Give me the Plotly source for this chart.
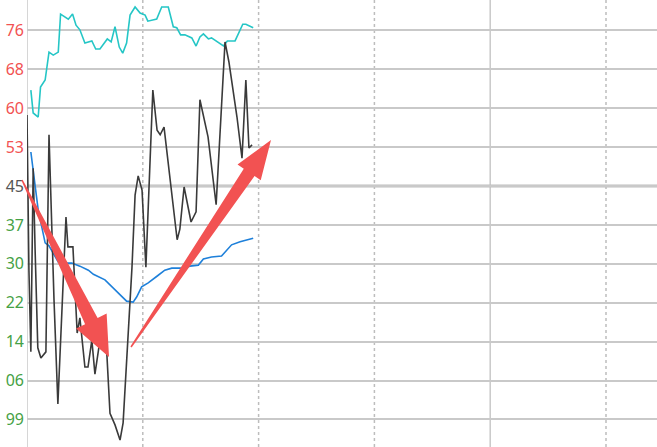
import numpy as np
import plotly.graph_objects as go

# price line (minutes since open, price)
price_t = [0.0, 0.5, 1.0, 1.6, 2.1, 2.8, 3.6, 4.9, 5.7, 6.2, 7.0, 8.0, 9.1, 10.1, 10.6,
           11.9, 13.0, 13.7, 15.0, 15.8, 16.8, 17.6, 18.9, 19.9, 20.7, 21.5, 22.8, 24.1,
           24.9, 26.2, 27.2, 28.0, 28.8, 29.8, 30.8, 32.6, 33.7, 34.5, 35.5, 38.9, 39.6,
           40.7, 41.7, 42.5, 43.8, 44.8, 46.9, 49.0, 51.3, 52.3, 54.4, 55.7, 56.7, 57.5, 58.3]
price_v = [12.590, 12.284, 12.123, 12.485, 12.324, 12.131, 12.111, 12.123, 12.551, 12.422,
           12.225, 12.020, 12.225, 12.389, 12.330, 12.330, 12.160, 12.190, 12.093, 12.093,
           12.146, 12.079, 12.146, 12.166, 12.117, 12.002, 11.979, 11.949, 11.983, 12.146,
           12.290, 12.432, 12.470, 12.442, 12.290, 12.639, 12.560, 12.551, 12.566, 12.344,
           12.365, 12.448, 12.409, 12.379, 12.399, 12.620, 12.547, 12.413, 12.734, 12.695,
           12.586, 12.505, 12.659, 12.525, 12.531]

# average price line
avg_t = [1.0, 1.6, 2.9, 4.7, 5.7, 8.1, 9.8, 11.6, 13.7, 15.9, 17.2, 20.2, 22.8, 24.5, 25.8,
         27.5, 28.4, 29.7, 31.4, 34.0, 35.7, 37.5, 40.1, 42.2, 44.4, 45.7, 47.8, 50.4, 51.3,
         53.0, 55.2, 56.9, 58.6]
avg_v = [12.517, 12.482, 12.403, 12.338, 12.332, 12.300, 12.298, 12.298, 12.292, 12.284,
         12.276, 12.265, 12.245, 12.231, 12.223, 12.221, 12.231, 12.251, 12.259, 12.274,
         12.284, 12.288, 12.288, 12.292, 12.294, 12.306, 12.310, 12.312, 12.320, 12.334,
         12.340, 12.344, 12.347]

# benchmark / index line (scaled to price axis)
idx_t = [1.0, 1.6, 2.9, 3.5, 4.7, 5.7, 6.8, 8.1, 8.7, 10.7, 11.8, 12.7, 13.7, 15.0, 16.8,
         17.8, 18.9, 20.8, 21.8, 22.8, 23.9, 24.8, 25.8, 26.7, 28.0, 29.3, 30.6, 31.3, 33.6,
         34.9, 36.6, 37.9, 38.8, 39.8, 40.9, 42.7, 43.8, 44.8, 45.7, 47.0, 47.8, 50.9, 51.9,
         53.9, 55.9, 56.7, 58.6]
idx_v = [12.639, 12.594, 12.586, 12.645, 12.659, 12.714, 12.708, 12.714, 12.789, 12.779,
         12.789, 12.767, 12.758, 12.732, 12.736, 12.720, 12.720, 12.740, 12.734, 12.764,
         12.724, 12.712, 12.732, 12.787, 12.803, 12.791, 12.787, 12.775, 12.779, 12.803,
         12.803, 12.764, 12.762, 12.748, 12.748, 12.742, 12.726, 12.744, 12.750, 12.740,
         12.742, 12.726, 12.736, 12.736, 12.769, 12.769, 12.762]

PREV_CLOSE = 12.45
STEP = 0.0767
tick_steps = [4, 3, 2, 1, 0, -1, -2, -3, -4, -5, -6]
tick_labels = ["76", "68", "60", "53", "45", "37", "30", "22", "14", "06", "99"]

W, H = 657, 447
L = 27
X_MAX = (W - L) / 3.86
Y_TOP = PREV_CLOSE + 186 / 38.9 * STEP
Y_BOT = PREV_CLOSE - 261 / 38.9 * STEP

RED = "#F25252"
GREEN = "#45A145"
GRID = "#C9C9C9"


def to_paper(px, py):
    return (px - L) / (W - L), 1 - py / H


def arrow_path(tail, tip, w0, w1, head_len, head_half):
    t = np.array(tail, float)
    p = np.array(tip, float)
    u = (p - t) / np.linalg.norm(p - t)
    n = np.array([-u[1], u[0]])
    b = p - u * head_len
    pts = [t + n * w0 / 2, b + n * w1 / 2, b + n * head_half, p,
           b - n * head_half, b - n * w1 / 2, t - n * w0 / 2]
    segs = []
    for i, q in enumerate(pts):
        x, y = to_paper(*q)
        segs.append(("M" if i == 0 else "L") + f"{x:.4f},{y:.4f}")
    return " ".join(segs) + " Z"


fig = go.Figure()
fig.add_trace(go.Scatter(x=idx_t, y=idx_v, mode="lines",
                         line=dict(color="#25C6C6", width=1.6), hoverinfo="skip"))
fig.add_trace(go.Scatter(x=avg_t, y=avg_v, mode="lines",
                         line=dict(color="#1E80DA", width=1.6), hoverinfo="skip"))
fig.add_trace(go.Scatter(x=price_t, y=price_v, mode="lines",
                         line=dict(color="#3A3A3A", width=1.6), hoverinfo="skip"))

tickvals = [PREV_CLOSE + k * STEP for k in tick_steps]
ticktext = []
for k, lab in zip(tick_steps, tick_labels):
    col = RED if k > 0 else (GREEN if k < 0 else "#555555")
    ticktext.append(f'<span style="color:{col}">{lab}</span>')

shapes = []
# vertical time lines
for m in [30, 60, 90, 150]:
    shapes.append(dict(type="line", xref="x", yref="paper", x0=m, x1=m, y0=0, y1=1,
                       line=dict(color="#BDBDBD", width=1.5, dash="dot"), layer="below"))
for m in [0, 120]:
    shapes.append(dict(type="line", xref="x", yref="paper", x0=m, x1=m, y0=0, y1=1,
                       line=dict(color=GRID, width=1.5), layer="below"))
# previous close line
shapes.append(dict(type="line", xref="paper", yref="y", x0=0, x1=1, y0=PREV_CLOSE,
                   y1=PREV_CLOSE, line=dict(color="#BDBDBD", width=3), layer="below"))
# red trend arrows
shapes.append(dict(type="path", xref="paper", yref="paper",
                   path=arrow_path((22, 180), (109, 357), 1.5, 14, 40, 17),
                   fillcolor=RED, line=dict(width=0)))
shapes.append(dict(type="path", xref="paper", yref="paper",
                   path=arrow_path((131, 347), (271, 140), 1.5, 13, 39, 14),
                   fillcolor=RED, line=dict(width=0)))

fig.update_layout(
    width=W, height=H,
    margin=dict(l=L, r=0, t=0, b=0),
    paper_bgcolor="white", plot_bgcolor="white",
    showlegend=False,
    shapes=shapes,
    xaxis=dict(range=[0, X_MAX], showgrid=False, zeroline=False,
               showticklabels=False, fixedrange=True),
    yaxis=dict(range=[Y_BOT, Y_TOP], tickmode="array", tickvals=tickvals,
               ticktext=ticktext, showgrid=True, gridcolor=GRID, gridwidth=2,
               zeroline=False, ticks="", ticklabelstandoff=2,
               tickfont=dict(family="Noto Sans", size=16), fixedrange=True),
)

fig.write_html("out.html", config={"displayModeBar": False},
               post_script="document.body.style.margin='0';")
